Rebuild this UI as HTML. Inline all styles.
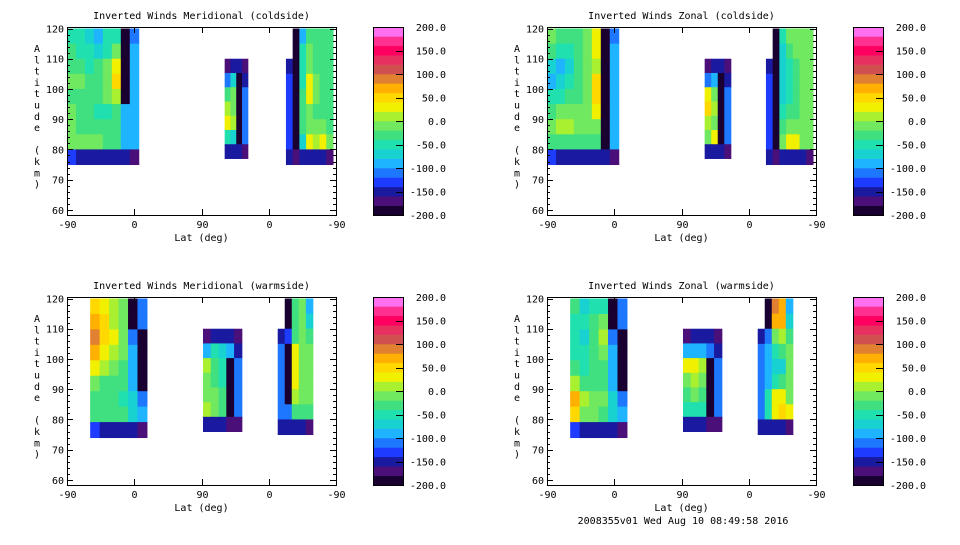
<!DOCTYPE html>
<html><head><meta charset="utf-8"><style>
body{margin:0;background:#fff;width:960px;height:540px;overflow:hidden}
svg text{font-family:"DejaVu Sans Mono","Liberation Mono",monospace;font-size:10px;fill:#000}
</style></head><body>
<svg id="chart" width="960" height="540" xmlns="http://www.w3.org/2000/svg"></svg>
<script>
// colour levels (-200..200 step 20)
const levelColors=["#1a0030","#4b0f7a","#1a1aa0","#1e3cff","#1e78ff","#1eb4ff","#18d2d2","#20e0b0","#40e080","#70e860","#a8f030","#f0f000","#ffd800","#ffb000","#e08030","#d05050","#e83060","#ff0060","#ff3090","#ff70f0"];
const cbTicks=["200.0","150.0","100.0","50.0","0.0","-50.0","-100.0","-150.0","-200.0"];
const yTicks=[60,70,80,90,100,110,120];
const xTickLabels=["-90","0","90","0","-90"];
const panelTitles=["Inverted Winds Meridional (coldside)","Inverted Winds Zonal (coldside)","Inverted Winds Meridional (warmside)","Inverted Winds Zonal (warmside)"];
// blocks: [u0,u1,altTop,altBottom,rows(top->bottom)]
const tlA=[[-60,-60,-80,-100,-60,-50,-190,-120],[-30,-50,-60,-70,-50,-10,-190,-100],[-30,-40,-50,-40,-20,30,-190,-90],[-20,-10,-40,-40,-20,40,-190,-90],[-30,-30,-40,-40,-20,10,-190,-90],[-10,-30,-40,-50,-60,-30,-100,-90],[-20,-40,-30,-40,-40,-40,-90,-90],[-10,-10,-10,-20,-30,-30,-90,-90],[-140,-150,-150,-150,-150,-150,-160,-170]];
const tlB=[[-170,-150,-150,-170],[-120,-80,-190,-150],[-40,-20,-190,-110],[10,-10,-190,-110],[30,0,-190,-110],[-60,-80,-190,-120],[-150,-160,-160,-180]];
const tlC=[[null,-190,-100,-30,-30,-40,-40],[null,-190,-60,-10,-40,-40,-40],[-160,-190,-60,-20,-30,-40,-40],[-140,-190,-60,30,-20,-40,-40],[-140,-190,-40,20,-20,-40,-40],[-140,-190,-40,-20,-30,-40,-40],[-140,-190,-40,-10,-10,-20,-30],[-140,-190,-80,20,0,30,-20],[-160,-170,-160,-160,-160,-150,-170]];
const trA=[[-20,-30,-40,-30,-20,20,-190,-110],[-40,-60,-60,-40,-10,30,-190,-100],[-80,-100,-70,-40,-10,10,-190,-100],[-90,-80,-60,-40,-10,40,-190,-90],[-50,-60,-40,-30,-20,40,-190,-90],[-30,-20,-20,-20,-10,20,-190,-90],[-20,0,10,-20,-10,-10,-190,-90],[-40,-30,-30,-30,-30,-30,-190,-90],[-140,-150,-150,-150,-150,-150,-160,-170]];
const trB=[[-170,-150,-150,-170],[-110,-90,-190,-150],[20,-10,-190,-110],[40,0,-190,-110],[0,-10,-190,-110],[-20,30,-190,-120],[-150,-160,-160,-180]];
const trC=[[null,-190,-60,-10,-10,-10,-10],[null,-190,-80,-40,-20,-10,-10],[-160,-190,-80,-50,-30,-20,-10],[-140,-190,-70,-60,-40,-20,-10],[-140,-190,-70,-60,-40,-20,-10],[-140,-190,-60,-40,-30,-20,-10],[-140,-190,-40,-10,-10,-10,-10],[-140,-190,-20,30,20,-10,-20],[-160,-170,-160,-160,-160,-150,-170]];
const blA=[[40,20,0,-20,-190,-120],[60,40,10,-20,-190,-110],[80,40,20,-20,-120,-190],[60,20,0,-20,-100,-190],[20,10,-10,-30,-100,-190],[-10,-30,-40,-40,-90,-190],[-40,-30,-40,-50,-80,-110],[-40,-40,-40,-40,-80,-100],[-140,-150,-160,-160,-160,-180]];
const blB=[[-170,-150,-150,-150,-180],[-100,-60,-80,-100,-150],[0,-30,-60,-190,-110],[-20,-40,-50,-190,-110],[-10,-20,-30,-190,-110],[10,-20,-40,-190,-120],[-150,-160,-160,-170,-180]];
const blC=[[null,-190,-40,-20,-100],[null,-190,-30,-20,-80],[-150,-130,-30,-20,-40],[-120,-190,20,-10,-20],[-120,-190,30,-10,-20],[-120,-190,30,-10,-20],[-120,-190,0,-10,-20],[-120,-110,-40,-30,-30],[-150,-160,-160,-160,-170]];
const brA=[[-40,-70,-60,-60,-190,-120],[-50,-60,-40,-20,-190,-110],[-60,-70,-30,10,-120,-190],[-50,-60,-40,-10,-100,-190],[-30,-50,-40,-30,-100,-190],[10,-30,-40,-30,-90,-190],[60,0,-10,-10,-80,-110],[40,-20,-20,-30,-80,-100],[-140,-150,-160,-160,-160,-180]];
const brB=[[-170,-150,-150,-150,-180],[-90,-100,-100,-110,-150],[20,30,10,-190,-110],[-20,0,-20,-190,-110],[-40,-10,-30,-190,-110],[-60,-50,-60,-190,-120],[-150,-160,-160,-170,-180]];
const brC=[[null,-190,80,60,-100],[null,-190,70,60,-80],[-150,-120,-20,10,-40],[-120,-100,-60,-40,-20],[-120,-100,-70,-80,-20],[-120,-90,-50,-40,-20],[-120,-60,20,30,-10],[-120,-60,20,40,30],[-150,-160,-160,-160,-170]];
const panelBlocks=[
 [[0,96,120,75,tlA],[211,242,110,77,tlB],[293,356,120,75,tlC]],
 [[0,96,120,75,trA],[211,246,110,77,trB],[293,356,120,75,trC]],
 [[31,107,120,74,blA],[182,234,110,76,blB],[282,329,120,75,blC]],
 [[31,107,120,74,brA],[182,234,110,76,brB],[282,329,120,75,brC]]
];
const NS="http://www.w3.org/2000/svg";
const svg=document.getElementById('chart');
function mk(tag,attrs,parent){const e=document.createElementNS(NS,tag);for(const k in attrs)e.setAttribute(k,attrs[k]);(parent||svg).appendChild(e);return e;}
function colorFor(v){let i=Math.floor((v+200)/20);i=Math.max(0,Math.min(19,i));return levelColors[i];}
const PW=269,PH=188,AMIN=58.3,AMAX=120.5;
const offsets=[[67,27],[547,27],[67,297],[547,297]];
panelBlocks.forEach((blocks,p)=>{
  const [ox,oy]=offsets[p];
  const xs=u=>ox+u*PW/360;
  const ys=a=>oy+(AMAX-a)/(AMAX-AMIN)*PH;
  const g=mk('g',{});
  
  
  const t=mk('text',{x:ox+PW/2,y:oy-8,'text-anchor':'middle'},g);t.textContent=panelTitles[p];
  
  
  const field=mk('g',{},g);
  
  
  blocks.forEach(b=>{
    const [u0,u1,at,ab,rows]=b;
    const nr=rows.length,nc=rows[0].length;
    rows.forEach((row,r)=>row.forEach((v,c)=>{
      if(v===null)return;
      const x0=xs(u0+(u1-u0)*c/nc),x1=xs(u0+(u1-u0)*(c+1)/nc);
      const y0=ys(at-(at-ab)*r/nr),y1=ys(at-(at-ab)*(r+1)/nr);
      const cell=mk('rect',{x:x0,y:y0,width:x1-x0+0.5,height:y1-y0+0.5,fill:colorFor(v)},field);
      
      
    }));
  });
  mk('rect',{x:ox+0.5,y:oy+0.5,width:PW,height:PH,fill:'none',stroke:'#000','stroke-width':1},g);
  for(let a=60;a<=120;a+=2){
    const y=Math.round(ys(a))+0.5,len=(a%10===0)?6:3;
    mk('line',{x1:ox,y1:y,x2:ox+len,y2:y,stroke:'#000'},g);
    mk('line',{x1:ox+PW,y1:y,x2:ox+PW-len,y2:y,stroke:'#000'},g);
  }
  yTicks.forEach(a=>{const tt=mk('text',{x:ox-3,y:ys(a)+4,'text-anchor':'end'},g);tt.textContent=a;
    
    });
  xTickLabels.forEach((l,i)=>{const x=Math.round(xs(i*90))+0.5;
    mk('line',{x1:x,y1:oy,x2:x,y2:oy+6,stroke:'#000'},g);
    mk('line',{x1:x,y1:oy+PH,x2:x,y2:oy+PH-6,stroke:'#000'},g);
    const tt=mk('text',{x:x,y:oy+PH+13,'text-anchor':'middle'},g);tt.textContent=l;
    
    });
  const xl=mk('text',{x:ox+PW/2,y:oy+PH+26,'text-anchor':'middle'},g);xl.textContent='Lat (deg)';
  
  
  const yl=mk('text',{x:ox-30,y:oy+25,'text-anchor':'middle'},g);
  
  
  "Altitude (km)".split('').forEach((ch,i)=>{const s=mk('tspan',{x:ox-30,y:oy+25+i*11.3},yl);s.textContent=ch===' '?'\u00a0':ch;});
  const cx=ox+306,cw=30;
  const cb=mk('g',{},g);
  
  
  levelColors.forEach((c,i)=>{const h=PH/20;mk('rect',{x:cx,y:oy+PH-(i+1)*h,width:cw,height:h+0.3,fill:c},cb);});
  mk('rect',{x:cx+0.5,y:oy+0.5,width:cw,height:PH,fill:'none',stroke:'#000'},cb);
  cbTicks.forEach((l,i)=>{const y=oy+i*PH/8;
    mk('line',{x1:cx+cw-7,y1:Math.round(y)+0.5,x2:cx+cw,y2:Math.round(y)+0.5,stroke:'#000'},cb);
    const tt=mk('text',{x:cx+73,y:y+4,'text-anchor':'end'},cb);tt.textContent=l;
    
    });
});
const ft=mk('text',{x:683,y:524,'text-anchor':'middle'});ft.textContent='2008355v01 Wed Aug 10 08:49:58 2016';


</script>
</body></html>
